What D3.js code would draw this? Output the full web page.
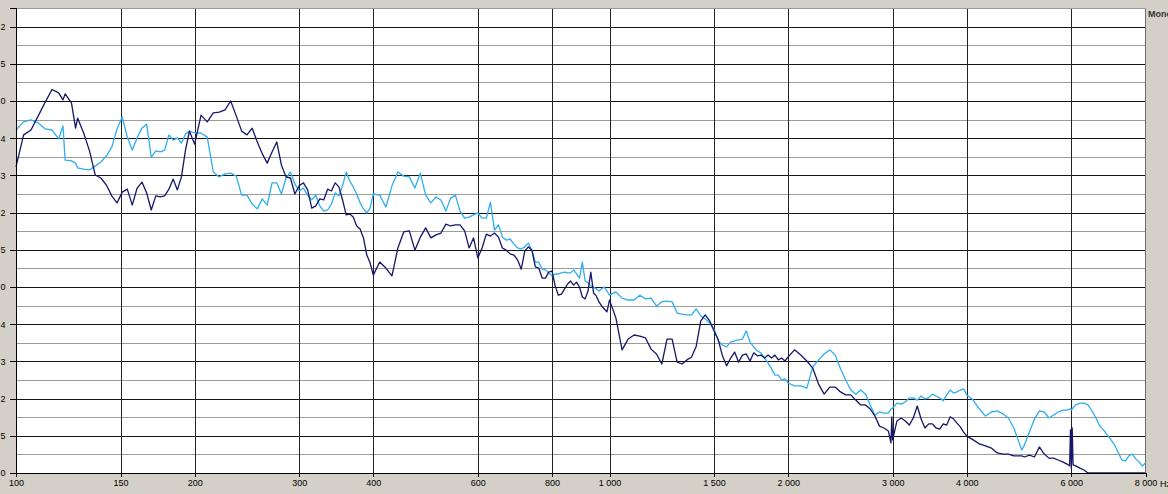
<!DOCTYPE html>
<html>
<head>
<meta charset="utf-8">
<script src="https://cdn.jsdelivr.net/npm/d3@7"></script>
<style>
  html, body { margin: 0; padding: 0; background: #d4d0c8; }
  svg { display: block; }
  text { font-family: "Liberation Sans", Arial, sans-serif; font-size: 9px; fill: #000; }
</style>
</head>
<body>
<svg id="chart" width="1168" height="494"></svg>
<script>
// Spectrum of two measurements, frequency (Hz, log axis) vs level (grid divisions)
const freqs = [
  100,103,106,109,112,115,118,120,121,124,126,127,130,133,136,139,142,145,148,151,154,157,160,163,166,169,172,175,178,181,184,187,190,193,196,
  200,205,210,215,220,225,230,235,240,245,250,255,260,265,270,275,280,285,290,295,300,305,310,315,320,325,330,335,340,345,350,355,360,365,370,375,380,385,390,395,400,
  410,420,430,440,450,460,470,480,490,500,510,520,530,540,550,560,570,580,590,600,610,620,630,640,650,660,670,680,690,700,710,720,730,740,750,760,770,780,790,800,810,820,830,840,850,860,870,880,890,900,910,920,930,940,950,960,970,980,990,1000,
  1025,1050,1075,1100,1125,1150,1175,1200,1225,1250,1275,1300,1325,1350,1375,1400,1425,1450,1475,1500,1525,1550,1575,1600,1625,1650,1675,1700,1725,1750,1775,1800,1825,1850,1875,1900,1925,1950,1975,2000,
  2050,2100,2150,2200,2250,2300,2350,2400,2450,2500,2550,2600,2650,2700,2750,2800,2850,2900,2950,2980,2990,3000,3050,3100,3150,3200,3250,3300,3350,3400,3450,3500,3550,3600,3650,3700,3750,3800,3850,3900,3950,4000,
  4100,4200,4300,4400,4500,4600,4700,4800,4900,4950,5000,5100,5200,5300,5400,5500,5600,5700,5800,5900,5960,5980,6000,6020,6040,6100,6200,6300,6400,6500,6600,6700,6800,6900,7000,7100,7200,7300,7400,7500,7600,7700,7800,7900,8000
];

const levelsNavy = [
  8.23,9.09,9.22,9.60,9.97,10.31,10.22,10.03,10.19,9.95,9.27,9.54,9.14,8.66,8.01,7.93,7.74,7.45,7.26,7.55,7.63,7.20,7.66,7.82,7.53,7.07,7.45,7.42,7.45,7.63,7.90,7.61,7.96,8.68,9.19,
  8.84,9.62,9.44,9.68,9.70,9.76,10.00,9.60,9.19,9.09,9.27,8.90,8.58,8.33,8.63,8.90,8.28,7.96,7.93,7.50,7.72,7.80,7.61,7.12,7.18,7.37,7.34,7.63,7.58,7.80,7.69,7.34,6.94,6.96,6.88,6.64,6.56,6.32,5.86,5.65,5.32,
  5.67,5.51,5.30,6.05,6.48,6.51,5.99,6.34,6.59,6.32,6.40,6.45,6.69,6.64,6.67,6.67,6.51,6.05,6.32,5.78,6.05,6.42,6.37,6.45,6.34,6.05,5.99,5.89,5.86,5.73,5.48,5.97,6.08,5.99,5.54,5.51,5.24,5.24,5.40,5.43,5.03,4.78,4.81,4.95,5.08,5.16,5.05,5.13,5.00,4.73,4.68,4.89,5.40,4.84,4.76,4.60,4.49,4.41,4.33,4.65,
  4.17,3.31,3.60,3.71,3.68,3.63,3.33,3.20,2.93,3.60,3.60,2.98,2.93,3.04,3.12,3.41,4.09,4.25,4.09,3.82,3.58,3.15,2.88,3.09,3.25,2.98,3.17,3.20,3.01,3.23,3.15,3.17,3.09,3.17,3.09,3.17,3.04,3.09,3.01,3.12,
  3.31,3.17,3.01,2.82,2.39,2.12,2.31,2.31,2.18,2.10,2.10,1.96,1.83,1.83,1.72,1.53,1.26,1.21,1.13,0.81,1.51,0.89,1.40,1.48,1.40,1.29,1.48,1.80,1.45,1.21,1.32,1.32,1.21,1.18,1.32,1.29,1.51,1.45,1.34,1.24,1.10,0.99,
  0.89,0.78,0.73,0.67,0.54,0.51,0.51,0.46,0.46,0.46,0.43,0.48,0.43,0.70,0.51,0.40,0.40,0.35,0.30,0.24,0.19,1.16,0.13,1.21,0.22,0.19,0.13,0.08,0,0,0,0,0,0,0,0,0,0,0,0,0,0,0,0,0
];

const levelsCyan = [
  9.22,9.44,9.49,9.41,9.25,9.22,8.98,9.33,8.41,8.39,8.33,8.20,8.17,8.15,8.25,8.36,8.52,8.76,9.25,9.57,9.03,8.68,9.01,9.27,9.38,8.49,8.66,8.63,8.68,9.09,8.95,9.01,8.87,9.11,9.19,
  9.14,9.14,9.03,8.09,7.96,8.04,8.06,7.98,7.47,7.47,7.23,7.10,7.37,7.20,7.80,7.80,7.50,7.93,8.09,7.77,7.58,7.66,7.47,7.34,7.47,7.18,7.04,7.07,7.23,7.53,7.45,7.72,8.09,7.85,7.69,7.50,7.26,7.10,6.99,7.12,7.50,
  7.47,7.15,7.72,8.09,7.98,7.96,7.66,8.06,7.47,7.26,7.42,7.34,7.04,7.39,7.47,7.04,6.85,6.88,6.94,6.99,6.85,6.85,7.28,6.53,6.67,6.34,6.26,6.29,6.16,6.05,6.02,6.08,6.18,5.99,5.67,5.67,5.48,5.46,5.38,5.30,5.35,5.35,5.38,5.40,5.38,5.38,5.46,5.35,5.24,5.67,5.16,5.11,5.03,5.00,4.95,4.89,4.95,5.00,4.89,4.78,
  4.87,4.70,4.65,4.65,4.78,4.68,4.70,4.49,4.60,4.62,4.60,4.30,4.27,4.25,4.25,4.41,4.22,4.14,4.03,3.87,3.55,3.44,3.39,3.52,3.55,3.58,3.60,3.82,3.52,3.39,3.28,3.23,3.09,2.96,2.80,2.63,2.63,2.50,2.53,2.42,
  2.34,2.34,2.28,2.85,3.04,3.20,3.31,3.17,2.80,2.50,2.23,2.12,2.23,2.12,1.83,1.56,1.64,1.61,1.61,1.72,1.72,1.75,1.88,1.85,1.91,2.02,2.02,1.96,2.07,1.99,2.02,2.12,2.07,2.02,1.94,2.10,2.23,2.15,2.18,2.23,2.26,2.10,
  1.96,1.72,1.53,1.64,1.67,1.59,1.48,1.21,0.81,0.62,0.75,1.10,1.45,1.67,1.64,1.48,1.56,1.64,1.69,1.69,1.72,1.72,1.69,1.72,1.75,1.83,1.88,1.88,1.83,1.67,1.48,1.26,1.16,1.02,0.89,0.75,0.54,0.35,0.32,0.46,0.51,0.38,0.30,0.19,0.27
];

const xTicks = [100, 150, 200, 300, 400, 600, 800, 1000, 1500, 2000, 3000, 4000, 6000, 8000];
// level labels from the bottom grid line upwards
const yTickLabels = ["0", "5", "2", "3", "4", "0", "5", "2", "3", "4", "0", "5", "2"];
const channelLabel = "Mono";
const unitLabel = "Hz";

const width = 1168, height = 494;
const plot = { left: 16, right: 1145.5, top: 8, bottom: 473 };
const levelMax = 12.5;

const svg = d3.select("#chart");
const x = d3.scaleLog().domain([100, 8000]).range([plot.left, plot.right]);
const y = d3.scaleLinear().domain([0, levelMax]).range([plot.bottom, plot.top]);

const fmt = d3.formatLocale({ decimal: ",", thousands: " ", grouping: [3], currency: ["", ""] }).format(",");

svg.append("rect").attr("width", width).attr("height", height).attr("fill", "#d4d0c8");
svg.append("rect")
  .attr("x", plot.left).attr("y", plot.top)
  .attr("width", plot.right - plot.left).attr("height", plot.bottom - plot.top)
  .attr("fill", "#ffffff");

const majorLevels = d3.range(0, 13);
const minorLevels = d3.range(0.5, levelMax + 0.01, 1);

const gridStyle = (color) => g => g.selectAll("line")
  .attr("stroke", color).attr("stroke-width", 1).attr("shape-rendering", "crispEdges");

// horizontal minor grid
svg.append("g")
  .attr("transform", `translate(${plot.left},0)`)
  .call(d3.axisLeft(y).tickValues(minorLevels).tickSize(-(plot.right - plot.left)).tickFormat(""))
  .call(g => g.select(".domain").remove())
  .call(gridStyle("#9c9c9c"));

// horizontal major grid
svg.append("g")
  .attr("transform", `translate(${plot.left},0)`)
  .call(d3.axisLeft(y).tickValues(majorLevels.slice(1)).tickSize(-(plot.right - plot.left)).tickFormat(""))
  .call(g => g.select(".domain").remove())
  .call(gridStyle("#141414"));

// vertical grid
svg.append("g")
  .attr("transform", `translate(0,${plot.bottom})`)
  .call(d3.axisBottom(x).tickValues(xTicks.slice(1, -1)).tickSize(-(plot.bottom - plot.top)).tickFormat(""))
  .call(g => g.select(".domain").remove())
  .call(gridStyle("#222222"));

// frame: right and top edges
svg.append("line").attr("x1", plot.right).attr("x2", plot.right).attr("y1", plot.top).attr("y2", plot.bottom)
  .attr("stroke", "#6e6e6e").attr("stroke-width", 1).attr("shape-rendering", "crispEdges");
svg.append("line").attr("x1", plot.left).attr("x2", plot.right).attr("y1", plot.top).attr("y2", plot.top)
  .attr("stroke", "#9c9c9c").attr("stroke-width", 1).attr("shape-rendering", "crispEdges");

// curves
const line = d3.line().x(d => x(d[0])).y(d => y(d[1]));
const cyanPts = d3.zip(freqs, levelsCyan);
const navyPts = d3.zip(freqs, levelsNavy);

svg.append("path").datum(cyanPts).attr("d", line)
  .attr("fill", "none").attr("stroke", "#2eaef0").attr("stroke-width", 1.3).attr("stroke-linejoin", "round");
svg.append("path").datum(navyPts).attr("d", line)
  .attr("fill", "none").attr("stroke", "#16166a").attr("stroke-width", 1.3).attr("stroke-linejoin", "round");

// left axis
const yAxis = svg.append("g")
  .attr("transform", `translate(${plot.left},0)`)
  .call(d3.axisLeft(y).tickValues(majorLevels).tickSize(6).tickPadding(4.5).tickFormat(d => yTickLabels[d]));
yAxis.select(".domain").attr("stroke", "#000").attr("stroke-width", 1).attr("shape-rendering", "crispEdges");
yAxis.selectAll("line").attr("stroke", "#000").attr("shape-rendering", "crispEdges");
yAxis.selectAll("text").style("font-size", "9px").style("font-family", "'Liberation Sans', Arial, sans-serif");

// bottom axis
const xAxis = svg.append("g")
  .attr("transform", `translate(0,${plot.bottom})`)
  .call(d3.axisBottom(x).tickValues(xTicks).tickSize(4).tickPadding(3).tickFormat(d => fmt(d)));
xAxis.select(".domain").attr("stroke", "#000").attr("stroke-width", 1).attr("shape-rendering", "crispEdges");
xAxis.selectAll("line").attr("stroke", "#000").attr("shape-rendering", "crispEdges");
xAxis.selectAll("text").style("font-size", "9px").style("font-family", "'Liberation Sans', Arial, sans-serif");

svg.append("text").attr("x", 1160).attr("y", 486.5).text(unitLabel);
svg.append("text").attr("x", 1148).attr("y", 16.5)
  .style("font-weight", "bold").style("fill", "#333").text(channelLabel);
</script>
</body>
</html>
